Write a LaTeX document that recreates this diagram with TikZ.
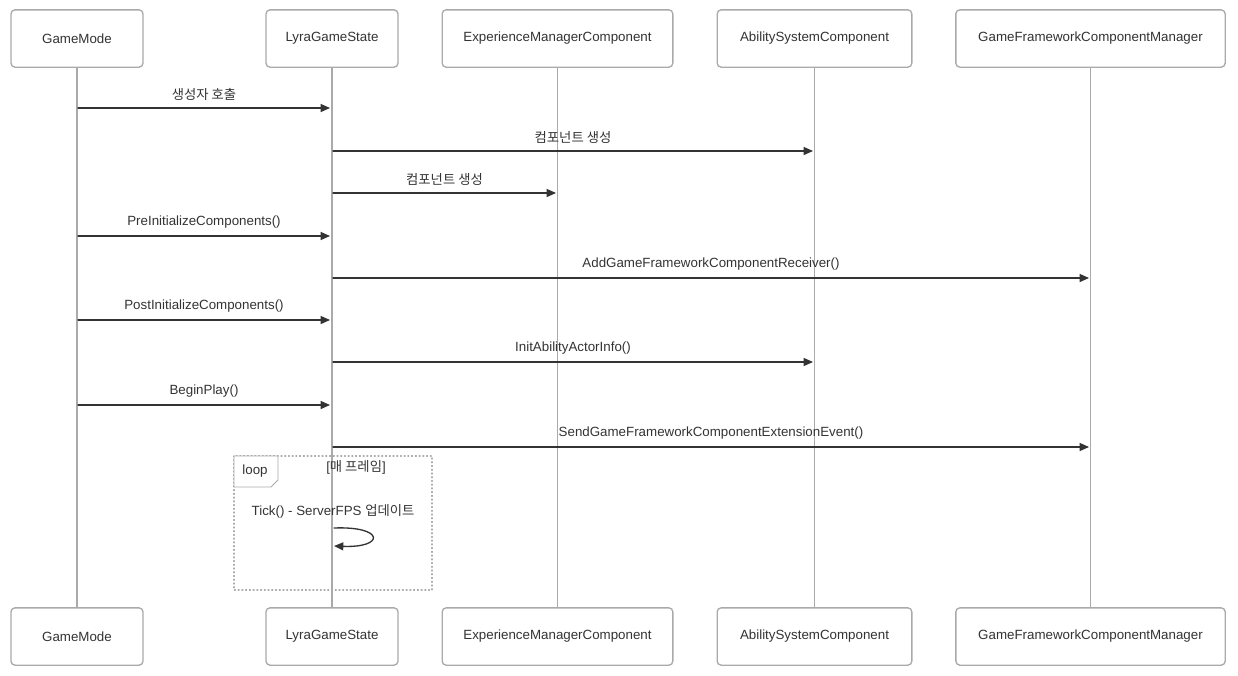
\documentclass[tikz,border=0pt]{standalone}
\usepackage{fontspec}
\setmainfont{Liberation Sans}
\newfontfamily\kr{Noto Sans CJK KR}
\usetikzlibrary{arrows.meta}
\definecolor{lifegray}{HTML}{AAAAAA}
\definecolor{msgdark}{HTML}{333333}
\tikzset{
  actor/.style={draw=lifegray,line width=1pt,rounded corners=3pt,fill=white,minimum height=43pt,inner sep=0pt,font=\fontsize{10pt}{12pt}\selectfont,text=msgdark},
  life/.style={lifegray,line width=1.2pt},
  msg/.style={msgdark,line width=1pt,-{Triangle[length=7pt,width=6pt]}},
  lbl/.style={font=\fontsize{10pt}{12pt}\selectfont,text=msgdark,anchor=south,inner sep=1pt}
}
\begin{document}
\begin{tikzpicture}[x=0.75pt,y=-0.75pt,line cap=round,line join=round]
    \useasboundingbox (0,0) rectangle (1238,675);

    % participants
    \node[actor,minimum width=99pt] (gmT) at (77,38.5) {GameMode};
    \node[actor,minimum width=99pt] (lgT) at (332,38.5) {LyraGameState};
    \node[actor,minimum width=173pt] (emT) at (557.5,38.5) {ExperienceManagerComponent};
    \node[actor,minimum width=146pt] (asT) at (814.5,38.5) {AbilitySystemComponent};
    \node[actor,minimum width=202pt] (gfT) at (1090.5,38.5) {GameFrameworkComponentManager};
    \node[actor,minimum width=99pt] (gmB) at (77,636.5) {GameMode};
    \node[actor,minimum width=99pt] (lgB) at (332,636.5) {LyraGameState};
    \node[actor,minimum width=173pt] (emB) at (557.5,636.5) {ExperienceManagerComponent};
    \node[actor,minimum width=146pt] (asB) at (814.5,636.5) {AbilitySystemComponent};
    \node[actor,minimum width=202pt] (gfB) at (1090.5,636.5) {GameFrameworkComponentManager};

    \begin{scope}[on background layer/.try]
    \end{scope}
    \draw[life] (gmT) -- (gmB);
    \draw[life] (lgT) -- (lgB);
    \draw[life] (emT) -- (emB);
    \draw[life] (asT) -- (asB);
    \draw[life] (gfT) -- (gfB);

    % messages
    \coordinate (gm1) at (78,108);  \coordinate (lg1) at (330,108);
    \coordinate (lg2) at (333,151); \coordinate (as2) at (813,151);
    \coordinate (lg3) at (333,193); \coordinate (em3) at (556,193);
    \coordinate (gm4) at (78,236);  \coordinate (lg4) at (330,236);
    \coordinate (lg5) at (333,278); \coordinate (gf5) at (1089,278);
    \coordinate (gm6) at (78,320);  \coordinate (lg6) at (330,320);
    \coordinate (lg7) at (333,362); \coordinate (as7) at (813,362);
    \coordinate (gm8) at (78,405);  \coordinate (lg8) at (330,405);
    \coordinate (lg9) at (333,447); \coordinate (gf9) at (1089,447);

    \draw[msg] (gm1) -- node[lbl,above=4pt] {\kr 생성자 호출} (lg1);
    \draw[msg] (lg2) -- node[lbl,above=4pt] {\kr 컴포넌트 생성} (as2);
    \draw[msg] (lg3) -- node[lbl,above=4pt] {\kr 컴포넌트 생성} (em3);
    \draw[msg] (gm4) -- node[lbl,above=4pt] {PreInitializeComponents()} (lg4);
    \draw[msg] (lg5) -- node[lbl,above=4pt] {AddGameFrameworkComponentReceiver()} (gf5);
    \draw[msg] (gm6) -- node[lbl,above=4pt] {PostInitializeComponents()} (lg6);
    \draw[msg] (lg7) -- node[lbl,above=4pt] {InitAbilityActorInfo()} (as7);
    \draw[msg] (gm8) -- node[lbl,above=4pt] {BeginPlay()} (lg8);
    \draw[msg] (lg9) -- node[lbl,above=4pt] {SendGameFrameworkComponentExtensionEvent()} (gf9);

    % loop frame
    \draw[lifegray,line width=0.8pt,dotted] (234,456) rectangle (432,590);
    \draw[lifegray,line width=0.6pt,fill=white] (234,456) -- (278,456) -- (278,480) -- (271,487) -- (234,487) -- cycle;
    \node[lbl,anchor=center] (looptag) at (255,471) {loop};
    \node[lbl,anchor=center] (loopcond) at (356,467) {[{\kr 매 프레임}]};
    \node[lbl,anchor=center] (ticklbl) at (333,511) {Tick() - ServerFPS {\kr 업데이트}};
    \coordinate (tickA) at (334,528);
    \coordinate (tickB) at (334,546);
    \draw[msg] (tickA) .. controls (385,526) and (385,548) .. (tickB);
\end{tikzpicture}
\end{document}
